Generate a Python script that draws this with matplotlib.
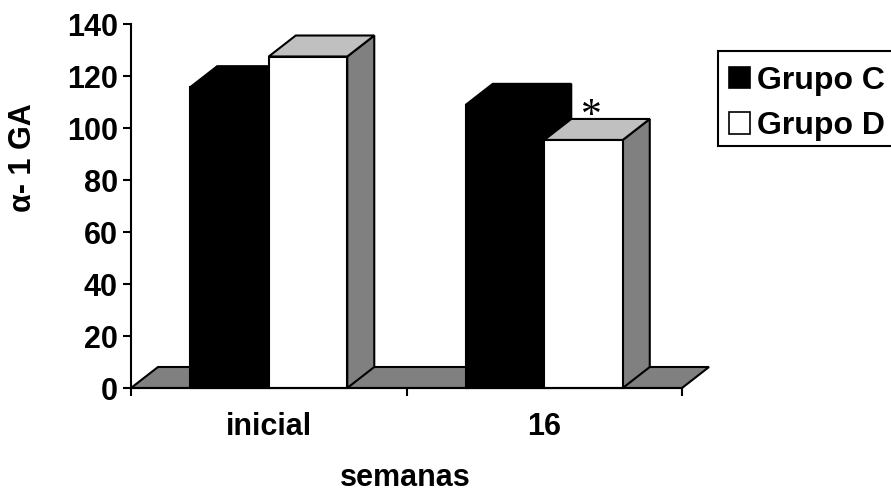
import matplotlib
matplotlib.use("Agg")
import matplotlib.pyplot as plt
from matplotlib.patches import Polygon, Patch, Rectangle

# Data
categories = ["inicial", "16"]
series_names = ["Grupo C", "Grupo D"]
grupo_c = [115.7, 108.9]
grupo_d = [127.5, 95.4]
y_ticks = [0, 20, 40, 60, 80, 100, 120, 140]

plt.rcParams["font.family"] = ["Liberation Sans", "DejaVu Sans"]
plt.rcParams["font.weight"] = "bold"

W, H, DPI = 891, 493, 100
fig = plt.figure(figsize=(W / DPI, H / DPI), dpi=DPI)
ax = fig.add_axes([131 / W, 1 - 388 / H, 551 / W, 364 / H])
ax.set_xlim(0, len(categories))
ax.set_ylim(0, 140)

# depth of the pseudo-3D extrusion, in pixels, converted into data units
depth_px = (27, 21)
x_per_px = len(categories) / 551
y_per_px = 140 / 364
dx, dy = depth_px[0] * x_per_px, depth_px[1] * y_per_px

LW = 1.5
GRAY = "#808080"
LIGHT = "#c0c0c0"


def add_poly(pts, face, z):
    ax.add_patch(Polygon(pts, closed=True, facecolor=face, edgecolor="black",
                         linewidth=LW, joinstyle="miter", zorder=z, clip_on=False))


def column(x0, w, v, front, top, side, z):
    # side face, top face, then front face
    add_poly([(x0 + w, 0), (x0 + w + dx, dy), (x0 + w + dx, v + dy), (x0 + w, v)], side, z)
    add_poly([(x0, v), (x0 + w, v), (x0 + w + dx, v + dy), (x0 + dx, v + dy)], top, z)
    add_poly([(x0, 0), (x0 + w, 0), (x0 + w, v), (x0, v)], front, z)


# floor
n = len(categories)
add_poly([(0, 0), (n, 0), (n + dx, dy), (dx, dy)], GRAY, 1)

bar_w = 0.285
for i in range(n):
    c = i + 0.5
    column(c - bar_w, bar_w, grupo_c[i], "black", "black", "black", 2)
    column(c, bar_w, grupo_d[i], "white", LIGHT, GRAY, 3)

# significance mark above the Grupo D column at week 16
ax.text(1.5 + bar_w / 2 + dx * 0.3, grupo_d[1] + dy + 0.8, "*",
        family=["Liberation Serif", "DejaVu Serif"], fontweight="normal",
        fontsize=30, ha="center", va="center", zorder=5)

# axes styling
for s in ("top", "right"):
    ax.spines[s].set_visible(False)
for s in ("left", "bottom"):
    ax.spines[s].set_linewidth(LW)
    ax.spines[s].set_zorder(6)

ax.set_yticks(y_ticks)
ax.tick_params(axis="y", length=6, width=LW, pad=3.5, labelsize=22, direction="out")
ax.set_xticks(range(n + 1))
ax.set_xticklabels([])
ax.tick_params(axis="x", which="major", length=6, width=LW, direction="out")
ax.set_xticks([i + 0.5 for i in range(n)], minor=True)
ax.set_xticklabels(categories, minor=True, fontsize=22, fontweight="bold")
ax.tick_params(axis="x", which="minor", length=0, pad=17)

fig.text(405 / W, 1 - 486 / H, "semanas", ha="center", va="baseline",
         fontsize=22, fontweight="bold")
fig.text(23 / W, 1 - 158 / H, "α- 1 GA", rotation=90, ha="center", va="center",
         fontsize=22, fontweight="bold")

# legend box runs past the right edge of the figure
fig.add_artist(Rectangle((718 / W, 1 - 146 / H), 190 / W, 95 / H,
                         transform=fig.transFigure, facecolor="white",
                         edgecolor="black", linewidth=LW, zorder=7))
handles = [Patch(facecolor="black", edgecolor="black", linewidth=1.2),
           Patch(facecolor="white", edgecolor="black", linewidth=1.2)]
leg = fig.legend(handles, series_names, loc="upper left",
                 bbox_to_anchor=(729 / W, 1 - 65.5 / H), bbox_transform=fig.transFigure,
                 prop={"weight": "bold", "size": 23}, frameon=False,
                 handlelength=0.66, handleheight=0.66, handletextpad=0.22,
                 borderpad=0, labelspacing=0.5, borderaxespad=0)
leg.set_zorder(8)

fig.savefig("out.png", dpi=DPI)
